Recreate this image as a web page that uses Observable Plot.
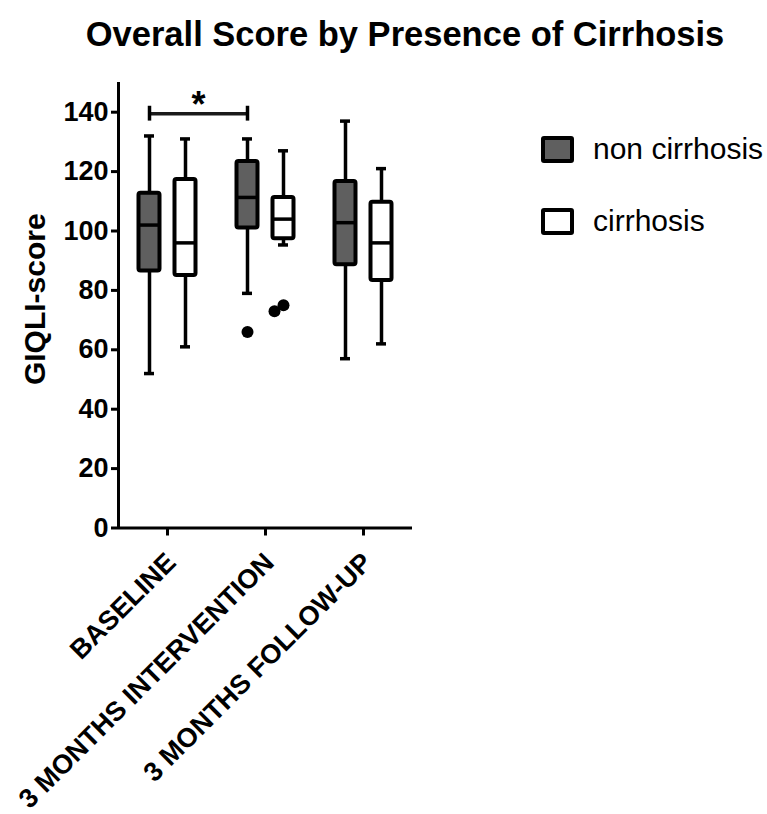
<!DOCTYPE html>
<html>
<head>
<meta charset="utf-8">
<script src="https://cdn.jsdelivr.net/npm/d3@7"></script>
<script src="https://cdn.jsdelivr.net/npm/@observablehq/plot@0.6"></script>
<style>
  html, body { margin: 0; padding: 0; background: #fff; }
  #wrap { position: relative; width: 767px; height: 814px; font-family: "Liberation Sans", Arial, sans-serif; color: #000; }
  #title { position: absolute; left: 0; top: 15px; width: 810px; text-align: center; font-size: 34.5px; font-weight: bold; white-space: nowrap; }
  #chart { position: absolute; left: 0; top: 70px; }
  .legend-item { position: absolute; left: 541px; display: flex; align-items: center; font-size: 30px; }
  .swatch { box-sizing: border-box; width: 33px; height: 27px; border: 4px solid #000; border-radius: 3px; margin-right: 19px; }
</style>
</head>
<body>
<div id="wrap">
  <div id="title">Overall Score by Presence of Cirrhosis</div>
  <div id="chart"></div>
  <div class="legend-item" style="top:132px"><span class="swatch" style="background:#5f5f5f"></span>non cirrhosis</div>
  <div class="legend-item" style="top:204px"><span class="swatch" style="background:#fff"></span>cirrhosis</div>
</div>
<script>
// Time points on the x axis
const phases = ["BASELINE", "3 MONTHS INTERVENTION", "3 MONTHS FOLLOW-UP"];
const groups = ["non cirrhosis", "cirrhosis"];

// GIQLI-score box summaries per time point (Tukey boxes)
const nonCirrhosisMin    = [52, 79, 57];
const nonCirrhosisQ1     = [86.5, 101, 88.6];
const nonCirrhosisMedian = [102, 111.3, 102.8];
const nonCirrhosisQ3     = [112.7, 123.4, 116.7];
const nonCirrhosisMax    = [132, 131, 137];

const cirrhosisMin    = [61, 95.3, 62];
const cirrhosisQ1     = [85, 97.4, 83.3];
const cirrhosisMedian = [96, 104, 96];
const cirrhosisQ3     = [117.3, 111.3, 109.7];
const cirrhosisMax    = [131, 127, 121];

// Outlying observations: [time point index, score]
const nonCirrhosisOutliers = [[1, 66]];
const cirrhosisOutliers    = [[1, 73], [1, 75]];

// Significant comparison (non cirrhosis, baseline vs intervention)
const significance = [{from: 0, to: 1, group: "non cirrhosis", label: "*"}];

const yTicks = [0, 20, 40, 60, 80, 100, 120, 140];
const xTicks = [0, 1, 2];

// ---- layout helpers ----
const STEP = 98;                 // px per time point
const PX = 150 / 445.5;          // y units per pixel
const OFF = 18 / STEP;           // group offset from the time point centre
const BOX_HALF = 10.5 / STEP;    // half box width (stroke excluded)
const CAP_HALF = 5 / STEP;       // half whisker-cap width
const BRACKET_Y = 139.5;
const DARK = "#5f5f5f";

const groupOffset = g => (g === "non cirrhosis" ? -OFF : OFF);

const boxes = [];
phases.forEach((p, i) => {
  boxes.push({phase: i, group: groups[0], min: nonCirrhosisMin[i], q1: nonCirrhosisQ1[i],
    median: nonCirrhosisMedian[i], q3: nonCirrhosisQ3[i], max: nonCirrhosisMax[i]});
  boxes.push({phase: i, group: groups[1], min: cirrhosisMin[i], q1: cirrhosisQ1[i],
    median: cirrhosisMedian[i], q3: cirrhosisQ3[i], max: cirrhosisMax[i]});
});
const xc = d => d.phase + groupOffset(d.group);

// outliers: values that sit close together are drawn side by side
function placeOutliers(list, group) {
  const sorted = list.slice().sort((a, b) => a[1] - b[1]);
  return sorted.map(([phase, value], k) => {
    const next = sorted[k + 1];
    const shift = next && next[0] === phase && Math.abs(next[1] - value) < 4 ? -9 / STEP : 0;
    return {phase, group, value, x: phase + groupOffset(group) + shift};
  });
}
const outliers = [
  ...placeOutliers(nonCirrhosisOutliers, groups[0]),
  ...placeOutliers(cirrhosisOutliers, groups[1])
];

const brackets = significance.map(s => ({
  x1: s.from + groupOffset(s.group),
  x2: s.to + groupOffset(s.group),
  label: s.label
}));

const chart = Plot.plot({
  width: 767,
  height: 744,
  marginLeft: 118,
  marginRight: 355,
  marginTop: 12,
  marginBottom: 286.5,
  style: {fontFamily: '"Liberation Sans", Arial, sans-serif', color: "#000", background: "#fff"},
  x: {domain: [-0.5, 2.5], axis: null},
  y: {domain: [0, 150], axis: null},
  marks: [
    // axis lines and x ticks
    Plot.ruleX([-0.5], {y1: 0, y2: 150, strokeWidth: 3}),
    Plot.ruleY([0], {x1: -0.5, x2: 2.5, strokeWidth: 3}),
    Plot.ruleX(xTicks, {x: d => d, y1: 0, y2: -8 * PX, strokeWidth: 3}),
    Plot.axisY({ticks: yTicks, tickSize: 7, tickPadding: 3, strokeWidth: 3,
      fontSize: 27, fontWeight: "bold", label: null}),
    Plot.axisX({ticks: xTicks, tickFormat: i => phases[i], tickSize: 0, tickPadding: 30, dx: 4,
      tickRotate: -45, fontSize: 27, fontWeight: "bold", label: null}),
    Plot.text(["GIQLI-score"], {frameAnchor: "left", textAnchor: "middle", dx: -83, dy: -6, rotate: -90,
      fontSize: 30, fontWeight: "bold"}),

    // whiskers
    Plot.ruleX(boxes, {x: xc, y1: "min", y2: "max", strokeWidth: 3.5}),
    Plot.ruleY(boxes, {y: "min", x1: d => xc(d) - CAP_HALF, x2: d => xc(d) + CAP_HALF, strokeWidth: 3.5}),
    Plot.ruleY(boxes, {y: "max", x1: d => xc(d) - CAP_HALF, x2: d => xc(d) + CAP_HALF, strokeWidth: 3.5}),
    // boxes
    Plot.rect(boxes, {x1: d => xc(d) - BOX_HALF, x2: d => xc(d) + BOX_HALF, y1: "q1", y2: "q3",
      fill: d => (d.group === groups[0] ? DARK : "#fff"), stroke: "#000", strokeWidth: 4, rx: 2}),
    Plot.ruleY(boxes, {y: "median", x1: d => xc(d) - BOX_HALF, x2: d => xc(d) + BOX_HALF, strokeWidth: 3.5}),
    // outliers
    Plot.dot(outliers, {x: "x", y: "value", r: 6, fill: "#000", stroke: "none"}),

    // significance bracket
    Plot.ruleY(brackets, {y: BRACKET_Y, x1: "x1", x2: "x2", strokeWidth: 3.5, stroke: "#1a1a1a"}),
    Plot.ruleX(brackets, {x: "x1", y1: BRACKET_Y - 2.5, y2: BRACKET_Y + 2.5, strokeWidth: 3.5}),
    Plot.ruleX(brackets, {x: "x2", y1: BRACKET_Y - 2.5, y2: BRACKET_Y + 2.5, strokeWidth: 3.5}),
    Plot.text(brackets, {x: d => (d.x1 + d.x2) / 2, y: BRACKET_Y, text: "label", dy: -8,
      fontSize: 36, fontWeight: "bold"})
  ]
});
document.getElementById("chart").appendChild(chart);
</script>
</body>
</html>
